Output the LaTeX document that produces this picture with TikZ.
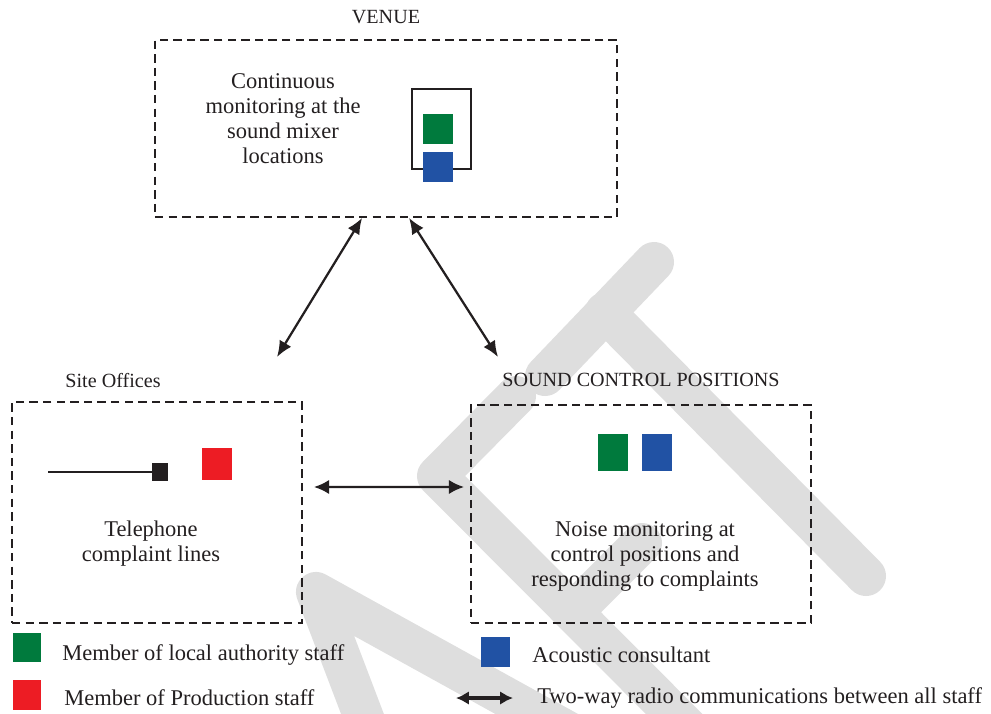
\documentclass[tikz,border=0pt]{standalone}
\usepackage{fontspec}
\setmainfont{Liberation Serif}
\usetikzlibrary{positioning,arrows.meta}
\definecolor{ink}{RGB}{35,31,32}
\definecolor{lagreen}{RGB}{0,122,61}
\definecolor{acblue}{RGB}{33,82,164}
\definecolor{prodred}{RGB}{237,28,36}
\definecolor{wmark}{RGB}{222,222,222}
\tikzset{%
  area/.style      = { draw = ink, line width = 1.3pt, dash pattern = on 2.1mm off 1.3mm,
                       inner sep = 0pt },
  staff/.style     = { fill = #1, minimum width = 0.75cm, minimum height = 0.75cm, inner sep = 0pt },
  txt/.style       = { text = ink, font = \fontsize{16}{17.8}\selectfont, align = center,
                       inner sep = 0pt },
  head/.style      = { text = ink, font = \fontsize{14.3}{17.8}\selectfont, inner sep = 0pt },
  radio/.style     = { <->, >={Latex[length=4mm,width=3.4mm]}, line width = 1.6pt, draw = ink },
  watermark/.style = { draw = wmark, line width = 1cm, line cap = round, line join = round }
}

\begin{document}
\begin{tikzpicture}[x=0.025cm, y=-0.025cm]
  \useasboundingbox (0,0) rectangle (991,713);
  % watermark in the background
  \begin{scope}
    \clip (0,0) rectangle (991,713);
    \draw[watermark] (654,262) -- (545,376);
    \draw[watermark] (605,312) -- (866,576);
    \draw[watermark] (516,396) -- (437,476) -- (720,760);
    \draw[watermark] (576,609) -- (642,543);
    \draw[watermark] (380,760) -- (316,592) -- (620,760);
  \end{scope}

  % venue
  \node(venue)[area, minimum width=11.55cm, minimum height=4.425cm] at (386,128.5) {};
  \node(venuet)[head, above=0.375cm of venue] {VENUE};
  \node(venuex)[txt] at (283,119) {Continuous\\monitoring at the\\sound mixer\\locations};
  \node(mixer)[draw=ink, line width=1.3pt, minimum width=1.475cm, minimum height=2cm] at (441.5,129) {};
  \node(vgreen)[staff=lagreen] at (438,129) {};
  \node(vblue)[staff=acblue] at (438,167) {};

  % site offices
  \node(site)[area, minimum width=7.25cm, minimum height=5.525cm] at (157,512.5) {};
  \node(sitet)[head] at (113,381) {Site Offices};
  \node(phone)[fill=ink, minimum width=0.4cm, minimum height=0.45cm, inner sep=0pt] at (160,472) {};
  \coordinate(wire) at (48,472);
  \draw[ink, line width=1pt] (wire) -- (phone);
  \node(sred)[staff=prodred, minimum height=0.8cm] at (217,464) {};
  \node(sitex)[txt] at (151,544) {Telephone\\complaint lines};

  % sound control positions
  \node(sound)[area, minimum width=8.5cm, minimum height=5.45cm] at (641,514) {};
  \node(soundt)[head, above=0.425cm of sound] {SOUND CONTROL POSITIONS};
  \node(cgreen)[staff=lagreen, minimum height=0.925cm] at (613,452.5) {};
  \node(cblue)[staff=acblue, minimum height=0.925cm] at (657,452.5) {};
  \node(soundx)[txt] at (645,556) {Noise monitoring at\\control positions and\\responding to complaints};

  % radio links
  \coordinate(toSite) at (277,357);
  \coordinate(toSound) at (498,357);
  \draw[radio] ([xshift=5.2cm]venue.south west) -- (toSite);
  \draw[radio] ([xshift=6.375cm]venue.south west) -- (toSound);
  \draw[radio, >={Latex[length=3.8mm,width=3.6mm]}] ([xshift=0.275cm, yshift=0.6375cm]site.east)
    -- ([xshift=-0.15cm, yshift=0.675cm]sound.west);

  % key
  \node(kgreen)[staff=lagreen, minimum width=0.7cm, minimum height=0.725cm] at (27,647) {};
  \node(kgreent)[txt, anchor=west] at (62,655) {Member of local authority staff};
  \node(kred)[staff=prodred, minimum width=0.7cm, minimum height=0.75cm] at (27,695) {};
  \node(kredt)[txt, anchor=west] at (64,698) {Member of Production staff};
  \node(kblue)[staff=acblue, minimum width=0.725cm, minimum height=0.75cm] at (495,652) {};
  \node(kbluet)[txt, anchor=west] at (532,655) {Acoustic consultant};
  \node(kradiot)[txt, anchor=west] at (537,698) {Two-way radio communications between all staff};
  \draw[radio, line width=2.2pt, >={Latex[length=3.2mm,width=3.4mm]}]
    ([xshift=-2.025cm]kradiot.west) -- ([xshift=-0.6cm]kradiot.west);
\end{tikzpicture}
\end{document}
